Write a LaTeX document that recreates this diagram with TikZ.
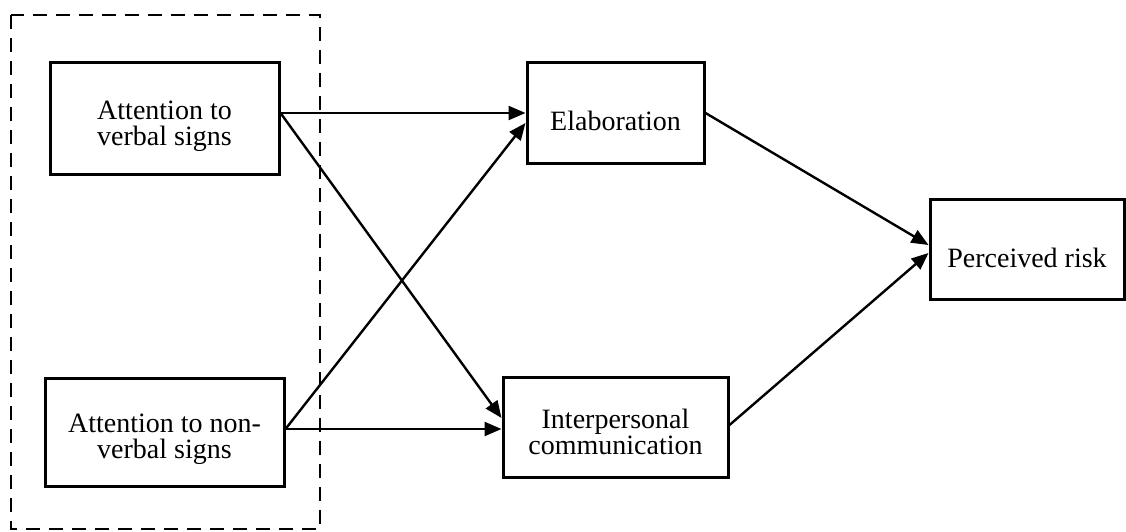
\documentclass[tikz,border=0pt]{standalone}
\usepackage{fontspec}
\setmainfont{Liberation Serif}
\usetikzlibrary{arrows.meta}
\begin{document}
\begin{tikzpicture}[x=1pt,y=-1pt,
  box/.style={draw, line width=3pt, inner sep=0pt},
  txt/.style={align=center, inner sep=0pt, font=\fontsize{28}{26}\selectfont},
  arr/.style={line width=2.4pt, -{Triangle[length=17pt,width=14pt]}},
  grp/.style={draw, line width=2pt, dash pattern=on 14pt off 9pt}]
\useasboundingbox (0,0) rectangle (1126,532);
\draw[grp] (11,15) rectangle (320,529);
\node[box, minimum width=229pt, minimum height=111pt] (av) at (164.5,118.5) {};
\node[box, minimum width=239pt, minimum height=108pt] (an) at (164.5,432) {};
\node[box, minimum width=177pt, minimum height=100pt] (el) at (615.5,113) {};
\node[box, minimum width=225pt, minimum height=100pt] (ic) at (615.5,427) {};
\node[box, minimum width=194pt, minimum height=100pt] (pr) at (1027,249) {};
\node[txt] (tav) at ([yshift=-8pt]av.center) {Attention to\\verbal signs};
\node[txt] (tan) at ([yshift=-7pt]an.center) {Attention to non-\\verbal signs};
\node[txt] (tel) at ([yshift=-8pt]el.center) {Elaboration};
\node[txt] (tic) at ([yshift=-5pt]ic.center) {Interpersonal\\communication};
\node[txt] (tpr) at ([yshift=-9pt]pr.center) {Perceived risk};
\draw[arr] ([yshift=5.5pt]av.east) -- ([yshift=0pt]el.west);
\draw[arr] ([yshift=5.5pt]av.east) -- ([yshift=9pt]ic.west);
\draw[arr] ([yshift=3pt]an.east) -- ([yshift=-10pt]el.west);
\draw[arr] ([yshift=3pt]an.east) -- ([yshift=-2pt]ic.west);
\draw[arr] (el.east) -- ([yshift=4pt]pr.west);
\draw[arr] ([yshift=2pt]ic.east) -- ([yshift=-4pt]pr.west);
\end{tikzpicture}
\end{document}
